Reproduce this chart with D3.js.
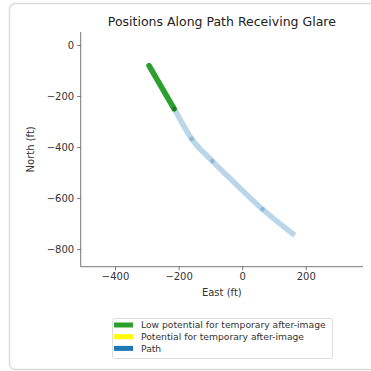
<!DOCTYPE html>
<html><head><meta charset="utf-8">
<script src="https://cdn.jsdelivr.net/npm/d3@7"></script>
<style>body{margin:0;background:#fff;} svg{display:block;font-family:"DejaVu Sans",sans-serif;}</style>
</head><body>
<script>
// Data
const pathEast  = [-293, -254, -214, -159, -94, -20, 64, 165];
const pathNorth = [-81, -166, -250, -368, -455, -545, -644, -746];
const glareEast  = [-293, -214];
const glareNorth = [-81, -250];
const xTicks = [-400, -200, 0, 200];
const yTicks = [0, -200, -400, -600, -800];
const legendLabels = ["Low potential for temporary after-image", "Potential for temporary after-image", "Path"];
const legendColors = ["#2ca02c", "#ffff00", "#1f77b4"];
const markerIdx = [2, 3, 4, 6];

const W = 371, H = 371;
const svg = d3.select("body").append("svg").attr("width", W).attr("height", H);

// card
svg.append("rect").attr("x", 9.5).attr("y", 3.5).attr("width", 380).attr("height", 366)
  .attr("rx", 6).attr("fill", "#fff").attr("stroke", "#dcdcdc").attr("stroke-width", 1.5);

const L = 80.7, R = 363, T = 32, B = 266.7;
const x = d3.scaleLinear().domain([-508, 380]).range([L, R]);
const y = d3.scaleLinear().domain([-869, 51]).range([B, T]);

// title
svg.append("text").attr("x", (L + R) / 2).attr("y", 26).attr("text-anchor", "middle")
  .attr("font-size", 12.5).attr("fill", "#222").text("Positions Along Path Receiving Glare");

// axes
const fmt = d => d < 0 ? "\u2212" + Math.abs(d) : d;
const xAxis = d3.axisBottom(x).tickValues(xTicks).tickSize(3.5).tickPadding(3).tickFormat(fmt);
const yAxis = d3.axisLeft(y).tickValues(yTicks).tickSize(3.5).tickPadding(3).tickFormat(fmt);
const gx = svg.append("g").attr("transform", `translate(0,${B})`).call(xAxis);
const gy = svg.append("g").attr("transform", `translate(${L},0)`).call(yAxis);
[gx, gy].forEach(g => {
  g.select(".domain").attr("stroke", "#555").attr("stroke-width", 0.8);
  g.selectAll(".tick line").attr("stroke", "#555").attr("stroke-width", 0.8);
  g.selectAll(".tick text").attr("font-size", 10).attr("fill", "#333").attr("font-family", "DejaVu Sans");
});
gx.select(".domain").attr("d", `M${L},0H${R}`);
gy.select(".domain").attr("d", `M0,${T}V${B}`);

svg.append("text").attr("x", (L + R) / 2).attr("y", 296).attr("text-anchor", "middle")
  .attr("font-size", 10).attr("fill", "#333").text("East (ft)");
svg.append("text").attr("transform", `translate(34,${(T + B) / 2}) rotate(-90)`).attr("text-anchor", "middle")
  .attr("font-size", 10).attr("fill", "#333").text("North (ft)");

// path
const pts = pathEast.map((e, i) => [e, pathNorth[i]]);
const line = d3.line().x(d => x(d[0])).y(d => y(d[1])).curve(d3.curveMonotoneX);
svg.append("path").datum(pts).attr("d", line).attr("fill", "none")
  .attr("stroke", "#1f77b4").attr("stroke-opacity", 0.3).attr("stroke-width", 5.5).attr("stroke-linecap", "butt");
svg.selectAll("circle.m").data(markerIdx.map(i => pts[i])).enter().append("circle")
  .attr("cx", d => x(d[0])).attr("cy", d => y(d[1])).attr("r", 2.3)
  .attr("fill", "#1f77b4").attr("fill-opacity", 0.3);

// glare segment
const gpts = glareEast.map((e, i) => [e, glareNorth[i]]);
svg.append("path").datum(gpts).attr("d", d3.line().x(d => x(d[0])).y(d => y(d[1])))
  .attr("fill", "none").attr("stroke", "#2ca02c").attr("stroke-width", 5.5).attr("stroke-linecap", "round");
svg.append("circle").attr("cx", x(glareEast[1])).attr("cy", y(glareNorth[1])).attr("r", 2.3).attr("fill", "#1e7a1e");

// legend
const lg = svg.append("g");
lg.append("rect").attr("x", 112.5).attr("y", 318.5).attr("width", 220).attr("height", 40)
  .attr("fill", "#fff").attr("stroke", "#ddd").attr("stroke-width", 1).attr("rx", 2);
legendLabels.forEach((lab, i) => {
  const cy = 325 + i * 11.7;
  lg.append("rect").attr("x", 114).attr("y", cy - 2.5).attr("width", 19).attr("height", 5).attr("fill", legendColors[i]);
  lg.append("text").attr("x", 141).attr("y", cy + 3.2).attr("font-size", 9.2).attr("fill", "#333").text(lab);
});
</script>
</body></html>
